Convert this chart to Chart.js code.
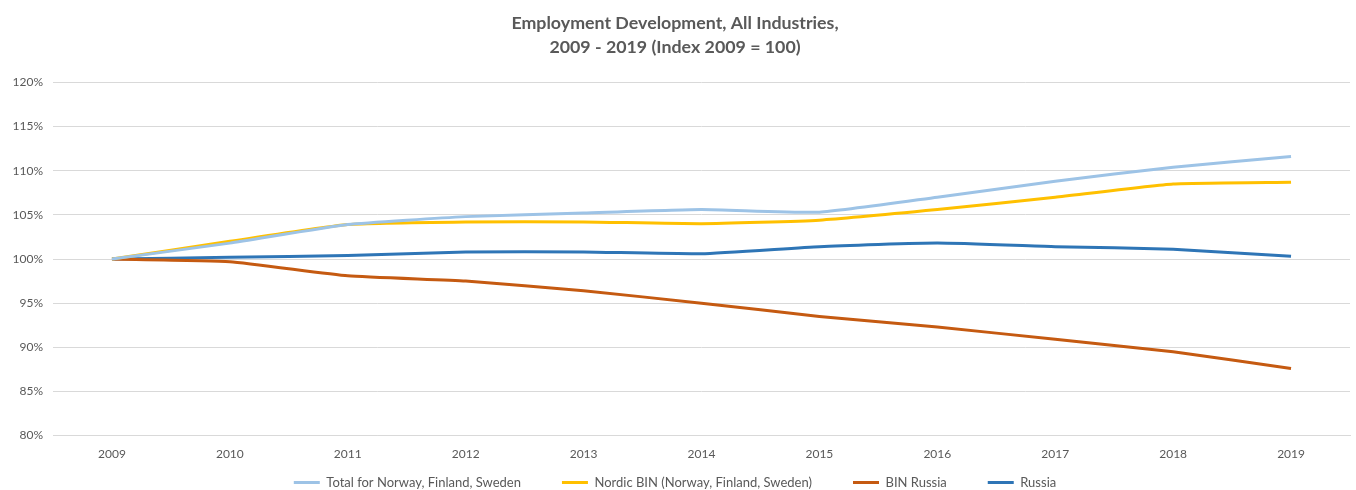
<!DOCTYPE html>
<html>
<head>
<meta charset="utf-8">
<script src="https://cdn.jsdelivr.net/npm/chart.js@4.4.1/dist/chart.umd.min.js"></script>
<style>
  html, body { margin: 0; padding: 0; background: #ffffff; }
  #wrap { width: 1356px; height: 490px; }
</style>
</head>
<body>
<div id="wrap"><canvas id="c" width="1356" height="490"></canvas></div>
<script>
// Employment index by year (2009 = 100)
const years = ['2009', '2010', '2011', '2012', '2013', '2014', '2015', '2016', '2017', '2018', '2019'];
const totalNordic = [100, 101.8, 103.9, 104.8, 105.2, 105.6, 105.3, 107.0, 108.8, 110.4, 111.6];
const nordicBIN   = [100, 102.0, 103.9, 104.2, 104.2, 104.0, 104.4, 105.6, 107.0, 108.5, 108.7];
const binRussia   = [100, 99.7, 98.1, 97.5, 96.4, 95.0, 93.5, 92.3, 90.9, 89.5, 87.6];
const russia      = [100, 100.2, 100.4, 100.8, 100.8, 100.6, 101.4, 101.8, 101.4, 101.1, 100.3];
const seriesNames = ['Total for Norway, Finland, Sweden', 'Nordic BIN (Norway, Finland, Sweden)', 'BIN Russia', 'Russia'];
const titleLines = ['Employment Development, All Industries,', '2009 - 2019 (Index 2009 = 100)'];

const FONT = 'Lato, "Open Sans", sans-serif';
const TEXT = '#595959';
const GRID = '#d9d9d9';
const LEGEND_PAD = 41;

function line(label, data, color) {
  return {
    label, data,
    borderColor: color,
    backgroundColor: color,
    borderWidth: 3,
    pointRadius: 0,
    tension: 0.15,
    fill: false
  };
}

// The legend uses wide item spacing (which Chart.js also applies vertically),
// so it reserves only a thin strip and its drawing box is extended upwards.
const legendLift = {
  id: 'legendLift',
  afterLayout(chart) {
    const lg = chart.legend;
    if (lg) {
      lg.top = lg.bottom - (LEGEND_PAD + 14);
      lg.height = lg.bottom - lg.top;
    }
  }
};

new Chart(document.getElementById('c'), {
  type: 'line',
  data: {
    labels: years,
    datasets: [
      line(seriesNames[0], totalNordic, '#9dc3e6'),
      line(seriesNames[1], nordicBIN, '#ffc000'),
      line(seriesNames[2], binRussia, '#c55a11'),
      line(seriesNames[3], russia, '#2e75b6')
    ]
  },
  plugins: [legendLift],
  options: {
    responsive: false,
    animation: false,
    layout: { padding: { top: 11, right: 6, left: 0, bottom: 0 } },
    plugins: {
      title: {
        display: true,
        text: titleLines,
        color: TEXT,
        font: { family: FONT, size: 17.8, weight: 'bold', lineHeight: 1.36 },
        padding: { top: 0, bottom: 23 }
      },
      legend: {
        position: 'bottom',
        maxHeight: 18,
        labels: {
          color: TEXT,
          font: { family: FONT, size: 13 },
          boxWidth: 26,
          boxHeight: 3,
          padding: LEGEND_PAD,
          generateLabels(chart) {
            return chart.data.datasets.map((ds, i) => ({
              text: ds.label,
              fillStyle: ds.borderColor,
              strokeStyle: ds.borderColor,
              lineWidth: 0,
              fontColor: TEXT,
              datasetIndex: i,
              hidden: false
            }));
          }
        }
      },
      tooltip: { enabled: false }
    },
    scales: {
      x: {
        offset: true,
        grid: { display: false, drawTicks: false },
        border: { display: true, color: GRID },
        ticks: { color: TEXT, font: { family: FONT, size: 12 }, padding: 11, maxRotation: 0 }
      },
      y: {
        min: 80, max: 120,
        grid: { color: GRID, drawTicks: false },
        border: { display: false },
        ticks: {
          stepSize: 5,
          color: TEXT,
          font: { family: FONT, size: 12 },
          padding: 10,
          callback: v => v + '%'
        },
        afterFit(scale) { scale.width = 53; }
      }
    }
  }
});
</script>
</body>
</html>
